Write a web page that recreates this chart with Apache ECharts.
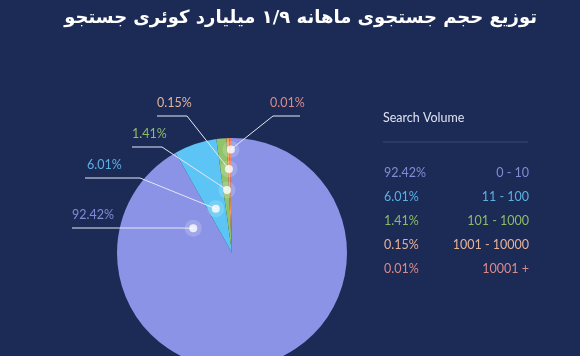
<!DOCTYPE html>
<html>
<head>
<meta charset="utf-8">
<script src="https://cdn.jsdelivr.net/npm/echarts@6/dist/echarts.min.js"></script>
<style>
html,body{margin:0;padding:0;background:#1c2a56;}
#c{width:580px;height:356px;}
</style>
</head>
<body>
<div id="c"></div>
<script>
// ---- data ----
const titleText = 'توزیع حجم جستجوی ماهانه ۱/۹ میلیارد کوئری جستجو';
const legendTitle = 'Search Volume';
const ranges = ['0 - 10', '11 - 100', '101 - 1000', '1001 - 10000', '10001 +'];
const shares = [92.42, 6.01, 1.41, 0.15, 0.01];

// ---- style / layout ----
const sliceColors = ['#8b93e6', '#5cc5f5', '#8fc46a', '#f0a25a', '#ee7b5c'];
const textColors = ['#838bd6', '#5cb0e4', '#8cbd68', '#e3b39a', '#d98b8c'];
const CX = 232, CY = 253, R = 115, MIN_ANGLE = 1.4;
const dotRadiusFrac = [0.40, 0.41, 0.55, 0.73, 0.90];
const dotAnchorFrac = [0.915, 0.43, 0.66, 0.5, 0.55];
// label guide layout: text left x, horizontal line y, line end x, elbow x
const guides = [
  {tx: 72, ly: 228, x0: 72, ex: 180},
  {tx: 87, ly: 178, x0: 85, ex: 140},
  {tx: 132, ly: 147, x0: 132, ex: 162},
  {tx: 157, ly: 116, x0: 157, ex: 187},
  {tx: 270, ly: 116, x0: 300, ex: 273}
];

// replicate pie angle allocation (with minAngle) to place the markers
function sliceAngles(vals) {
  const total = vals.reduce((a, b) => a + b, 0);
  let rest = 360, largeSum = 0;
  const ang = vals.map(v => {
    const a = v / total * 360;
    if (a < MIN_ANGLE) { rest -= MIN_ANGLE; return MIN_ANGLE; }
    largeSum += v; return a;
  });
  return vals.map((v, i) => ang[i] === MIN_ANGLE ? MIN_ANGLE : v * rest / largeSum);
}
const angs = sliceAngles(shares);
const starts = [];
angs.reduce((acc, a) => { starts.push(acc); return acc + a; }, 0);
const dotData = shares.map((v, i) => [dotRadiusFrac[i], starts[i] + angs[i] * dotAnchorFrac[i]]);

const chart = echarts.init(document.getElementById('c'));
const FONT = 'Lato, "Open Sans", sans-serif';
const FS = 12.5;

chart.setOption({
  backgroundColor: '#1c2a56',
  animation: false,
  title: {
    text: titleText,
    right: 38, top: 4,
    textStyle: {color: '#ffffff', fontSize: 18, fontWeight: 'bold', fontFamily: '"DejaVu Sans", sans-serif'}
  },
  polar: {center: [CX, CY], radius: R},
  angleAxis: {type: 'value', min: 0, max: 360, startAngle: 90, clockwise: true, show: false},
  radiusAxis: {type: 'value', min: 0, max: 1, show: false},
  legend: {
    orient: 'vertical',
    left: 374, top: 161,
    itemWidth: 0, itemHeight: 0,
    itemGap: 11.2,
    icon: 'none',
    selectedMode: false,
    data: ranges.map((n, i) => ({name: n, icon: 'none', textStyle: {color: textColors[i]}})),
    formatter: function (name) {
      const i = ranges.indexOf(name);
      return '{p|' + shares[i] + '%}{r|' + name + '}';
    },
    textStyle: {
      fontFamily: FONT, fontSize: FS,
      rich: {
        p: {width: 60, fontSize: FS, fontFamily: FONT, lineHeight: 15},
        r: {width: 85, align: 'right', fontSize: FS, fontFamily: FONT, lineHeight: 15}
      }
    }
  },
  graphic: [
    {type: 'text', left: 383, top: 111, style: {text: legendTitle, fill: '#dfe3f3', fontSize: FS, fontFamily: FONT}},
    {type: 'line', shape: {x1: 383, y1: 142, x2: 528, y2: 142}, style: {stroke: 'rgba(255,255,255,0.14)', lineWidth: 1}}
  ],
  series: [
    {
      type: 'pie',
      center: [CX, CY],
      radius: R,
      startAngle: 90,
      clockwise: true,
      minAngle: MIN_ANGLE,
      silent: true,
      label: {show: false},
      labelLine: {show: false},
      data: ranges.map((n, i) => ({
        name: n, value: shares[i],
        itemStyle: {color: sliceColors[i]}
      }))
    },
    {
      type: 'custom', coordinateSystem: 'polar', silent: true, z: 4,
      data: dotData,
      renderItem: function (params, api) {
        const i = params.dataIndex;
        const g = guides[i];
        const p = api.coord([api.value(0), api.value(1)]);
        return {
          type: 'group',
          children: [
            {type: 'polyline', shape: {points: [[p[0], p[1]], [g.ex, g.ly], [g.x0, g.ly]]},
             style: {stroke: '#e4e8f4', lineWidth: 1, fill: null}},
            {type: 'text', x: g.tx, y: g.ly - 7,
             style: {text: shares[i] + '%', fill: textColors[i], font: FS + 'px ' + FONT,
                     textAlign: 'left', textVerticalAlign: 'bottom'}}
          ]
        };
      }
    },
    {
      type: 'scatter', coordinateSystem: 'polar', silent: true,
      symbolSize: 17, z: 5,
      itemStyle: {color: 'rgba(255,255,255,0.22)'},
      data: dotData
    },
    {
      type: 'scatter', coordinateSystem: 'polar', silent: true,
      symbolSize: 8, z: 6,
      itemStyle: {color: '#ffffff'},
      data: dotData
    }
  ]
});
</script>
</body>
</html>
